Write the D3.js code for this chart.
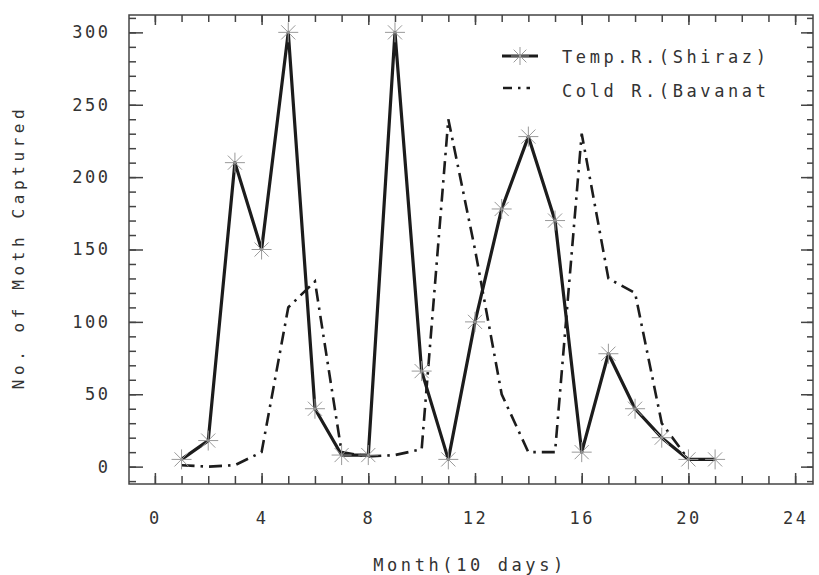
<!DOCTYPE html>
<html>
<head>
<meta charset="utf-8">
<script src="https://cdn.jsdelivr.net/npm/d3@7"></script>
<style>
  html, body { margin: 0; padding: 0; background: #fff; }
  svg { display: block; }
  text { font-family: "DejaVu Sans Mono", "Liberation Mono", monospace; fill: #333; }
</style>
</head>
<body>
<div id="chart"></div>
<script>
// data (x = 10-day period)
const periods = [1, 2, 3, 4, 5, 6, 7, 8, 9, 10, 11, 12, 13, 14, 15, 16, 17, 18, 19, 20, 21];
const tempShiraz = [5, 18, 210, 150, 300, 40, 8, 8, 300, 66, 5, 100, 178, 228, 170, 10, 78, 40, 20, 5, 5];
const coldBavanat = [1, 0, 1, 10, 110, 128, 10, 7, 8, 12, 240, 150, 50, 10, 10, 230, 130, 120, 30, 5, null];
const xLabelTicks = [0, 4, 8, 12, 16, 20, 24];
const yLabelTicks = [0, 50, 100, 150, 200, 250, 300];
const seriesNames = ['Temp.R.(Shiraz)', 'Cold R.(Bavanat'];

const width = 819, height = 575;
const plotLeft = 129, plotRight = 813, plotTop = 15, plotBottom = 484;

const svg = d3.select('#chart').append('svg')
  .attr('width', width)
  .attr('height', height);

const x = d3.scaleLinear().domain([-0.97, 24.67]).range([plotLeft, plotRight]);
const y = d3.scaleLinear().domain([-12, 312]).range([plotBottom, plotTop]);

const ink = '#1c1c1c';

// frame
svg.append('rect')
  .attr('x', plotLeft).attr('y', plotTop)
  .attr('width', plotRight - plotLeft).attr('height', plotBottom - plotTop)
  .attr('fill', 'none').attr('stroke', '#444').attr('stroke-width', 1.5);

const styleAxis = g => {
  g.select('.domain').remove();
  g.selectAll('.tick line').attr('stroke', '#444').attr('stroke-width', 1.5);
  g.selectAll('.tick text').style('font-size', '17px').style('letter-spacing', '2.5px');
};

const minorX = d3.range(0, 25, 1);
const minorY = d3.range(-10, 311, 10);

// left axis: minor + major ticks pointing in
svg.append('g').attr('transform', `translate(${plotLeft},0)`)
  .call(d3.axisLeft(y).tickValues(minorY).tickSize(-7).tickFormat(''))
  .call(styleAxis);
svg.append('g').attr('transform', `translate(${plotLeft},0)`)
  .call(d3.axisLeft(y).tickValues(yLabelTicks).tickSize(-14).tickPadding(21).tickFormat(d3.format('d')))
  .call(styleAxis)
  .call(g => g.selectAll('.tick text').attr('dx', '2.5px'));

// right axis
svg.append('g').attr('transform', `translate(${plotRight},0)`)
  .call(d3.axisRight(y).tickValues(minorY).tickSize(-6).tickFormat(''))
  .call(styleAxis);
svg.append('g').attr('transform', `translate(${plotRight},0)`)
  .call(d3.axisRight(y).tickValues(yLabelTicks).tickSize(-12).tickFormat(''))
  .call(styleAxis);

// bottom axis
svg.append('g').attr('transform', `translate(0,${plotBottom})`)
  .call(d3.axisBottom(x).tickValues(minorX).tickSize(-8).tickFormat(''))
  .call(styleAxis);
svg.append('g').attr('transform', `translate(0,${plotBottom})`)
  .call(d3.axisBottom(x).tickValues(xLabelTicks).tickSize(-11).tickPadding(28).tickFormat(d3.format('d')))
  .call(styleAxis);

// top axis
svg.append('g').attr('transform', `translate(0,${plotTop})`)
  .call(d3.axisTop(x).tickValues(minorX).tickSize(-7).tickFormat(''))
  .call(styleAxis);
svg.append('g').attr('transform', `translate(0,${plotTop})`)
  .call(d3.axisTop(x).tickValues(xLabelTicks).tickSize(-10).tickFormat(''))
  .call(styleAxis);

// axis titles
svg.append('text')
  .attr('x', 470).attr('y', 571)
  .attr('text-anchor', 'middle')
  .style('font-size', '17px').style('letter-spacing', '3.6px')
  .text('Month(10 days)');
svg.append('text')
  .attr('transform', 'translate(24,247) rotate(-90)')
  .attr('text-anchor', 'middle')
  .style('font-size', '16px').style('letter-spacing', '4.6px')
  .text('No. of Moth Captured');

// lines
const tempData = periods.map((p, i) => ({ p, v: tempShiraz[i] }));
const coldData = periods.map((p, i) => ({ p, v: coldBavanat[i] }));

const line = d3.line()
  .defined(d => d.v != null)
  .x(d => x(d.p))
  .y(d => y(d.v));

svg.append('path')
  .datum(coldData)
  .attr('d', line)
  .attr('fill', 'none')
  .attr('stroke', ink)
  .attr('stroke-width', 2.6)
  .attr('stroke-dasharray', '13,6,2.5,6');

svg.append('path')
  .datum(tempData)
  .attr('d', line)
  .attr('fill', 'none')
  .attr('stroke', ink)
  .attr('stroke-width', 3.2)
  .attr('stroke-linejoin', 'round');

// asterisk markers
const star = r => {
  const p = d3.path();
  for (let k = 0; k < 4; k++) {
    const a = k * Math.PI / 4;
    p.moveTo(-r * Math.cos(a), -r * Math.sin(a));
    p.lineTo(r * Math.cos(a), r * Math.sin(a));
  }
  return p.toString();
};

svg.append('g').selectAll('path')
  .data(tempData)
  .join('path')
  .attr('transform', d => `translate(${x(d.p)},${y(d.v)})`)
  .attr('d', star(10))
  .attr('stroke', '#999')
  .attr('stroke-width', 1);

// legend
const legend = svg.append('g');
legend.append('line')
  .attr('x1', 502).attr('x2', 538).attr('y1', 56).attr('y2', 56)
  .attr('stroke', ink).attr('stroke-width', 3.2);
legend.append('path')
  .attr('transform', 'translate(520,56)')
  .attr('d', star(9))
  .attr('stroke', '#999').attr('stroke-width', 1);
legend.append('line')
  .attr('x1', 503).attr('x2', 530).attr('y1', 88).attr('y2', 88)
  .attr('stroke', ink).attr('stroke-width', 2.6)
  .attr('stroke-dasharray', '9,6,2.5,6');
legend.selectAll('text')
  .data(seriesNames)
  .join('text')
  .attr('x', 562)
  .attr('y', (d, i) => 63 + i * 34)
  .style('font-size', '17px').style('letter-spacing', '3.6px')
  .text(d => d);
</script>
</body>
</html>
